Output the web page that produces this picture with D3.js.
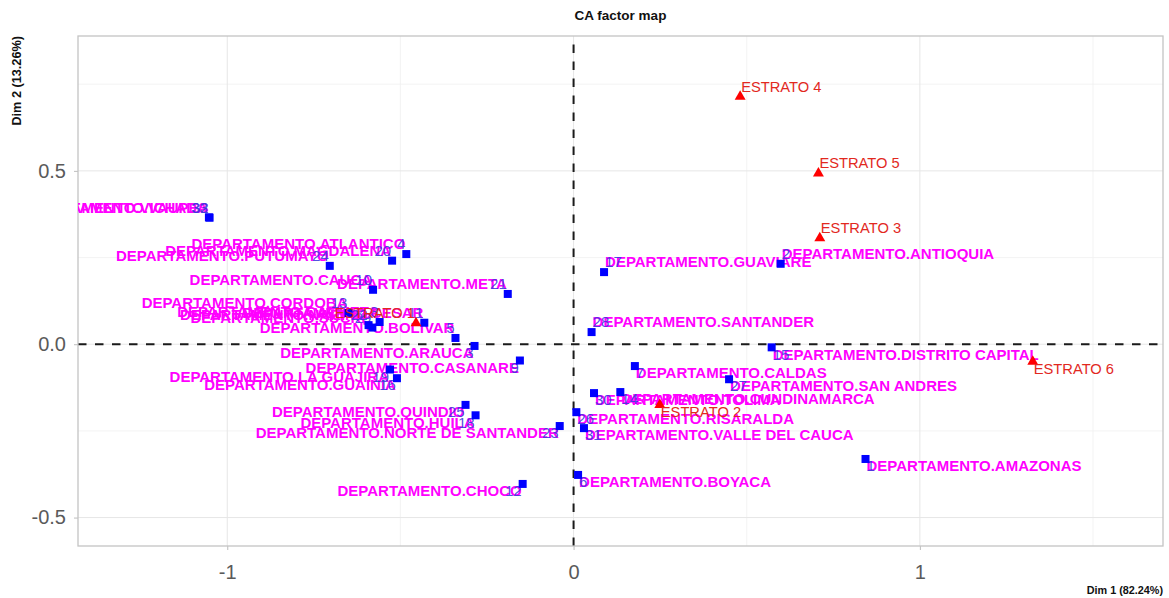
<!DOCTYPE html>
<html>
<head>
<meta charset="utf-8">
<script src="https://cdn.jsdelivr.net/npm/d3@7"></script>
<style>
  html, body { margin: 0; padding: 0; background: #ffffff; }
  svg { display: block; font-family: "Liberation Sans", Arial, sans-serif; }
</style>
</head>
<body>
<svg id="chart" width="1169" height="598"></svg>
<script>
// Row categories (departments) of the correspondence analysis
const departamentos = [
  "AMAZONAS", "ANTIOQUIA", "ARAUCA", "ATLANTICO", "BOLIVAR", "BOYACA", "CALDAS",
  "CAQUETA", "CASANARE", "CAUCA", "CESAR", "CHOCO", "CORDOBA", "CUNDINAMARCA",
  "DISTRITO CAPITAL", "GUAINIA", "GUAVIARE", "HUILA", "LA GUAJIRA", "MAGDALENA",
  "META", "NARINO", "NORTE DE SANTANDER", "PUTUMAYO", "QUINDIO", "RISARALDA",
  "SAN ANDRES", "SANTANDER", "SUCRE", "TOLIMA", "VALLE DEL CAUCA", "VAUPES", "VICHADA"
];
const depDim1 = [
   0.843,  0.598, -0.286, -0.483, -0.341,  0.013,  0.177,
  -0.560, -0.155, -0.579, -0.431, -0.147, -0.650,  0.135,
   0.572, -0.510,  0.088, -0.283, -0.530, -0.524,
  -0.190, -0.592, -0.040, -0.704, -0.312,  0.008,
   0.449,  0.052, -0.581,  0.059,  0.030, -1.051, -1.053
];
const depDim2 = [
  -0.331,  0.232, -0.005,  0.260,  0.018, -0.377, -0.063,
   0.064, -0.047,  0.157,  0.062, -0.403,  0.090, -0.138,
  -0.009, -0.098,  0.208, -0.205, -0.073,  0.241,
   0.145,  0.055, -0.236,  0.226, -0.175, -0.196,
  -0.101,  0.035,  0.048, -0.141, -0.242,  0.365,  0.366
];
// Side of each point where its label sits
const depLabelSide = [
  "se", "ne", "sw", "nw", "nw", "se", "se",
  "nw", "sw", "nw", "nw", "sw", "nw", "se",
  "se", "sw", "ne", "sw", "sw", "nw",
  "nw", "nw", "sw", "nw", "sw", "se",
  "se", "ne", "nw", "se", "se", "nw", "nw"
];

// Column categories (socio-economic strata)
const estratos = ["ESTRATO 1", "ESTRATO 2", "ESTRATO 3", "ESTRATO 4", "ESTRATO 5", "ESTRATO 6"];
const estDim1 = [-0.455, 0.249, 0.711, 0.481, 0.707, 1.326];
const estDim2 = [ 0.061, -0.175, 0.306, 0.714, 0.493, -0.050];
const estLabelSide = ["nw", "se", "ne", "ne", "ne", "se"];

// Axis ticks and titles
const xTicks = [-1, 0, 1];
const yTicks = [-0.5, 0.0, 0.5];
const xMinor = [-0.5, 0.5, 1.5];
const yMinor = [-0.25, 0.25, 0.75];
const chartTitle = "CA factor map";
const xTitle = "Dim 1 (82.24%)";
const yTitle = "Dim 2 (13.26%)";

const svg = d3.select("#chart");
const W = 1169, H = 598;
const panel = { left: 78, right: 1163, top: 36, bottom: 546 };

const x = d3.scaleLinear().domain([-1.431, 1.702]).range([panel.left, panel.right]);
const y = d3.scaleLinear().domain([-0.582, 0.889]).range([panel.bottom, panel.top]);

svg.append("rect").attr("width", W).attr("height", H).attr("fill", "#ffffff");

svg.append("defs").append("clipPath").attr("id", "panel-clip")
  .append("rect")
  .attr("x", panel.left).attr("y", panel.top)
  .attr("width", panel.right - panel.left).attr("height", panel.bottom - panel.top);

// Grid lines
const grid = svg.append("g");
grid.selectAll("line.xminor").data(xMinor).join("line")
  .attr("x1", d => x(d)).attr("x2", d => x(d))
  .attr("y1", panel.top).attr("y2", panel.bottom)
  .attr("stroke", "#F0F0F0").attr("stroke-width", 0.8);
grid.selectAll("line.yminor").data(yMinor).join("line")
  .attr("y1", d => y(d)).attr("y2", d => y(d))
  .attr("x1", panel.left).attr("x2", panel.right)
  .attr("stroke", "#F0F0F0").attr("stroke-width", 0.8);
grid.selectAll("line.xmajor").data(xTicks).join("line")
  .attr("x1", d => x(d)).attr("x2", d => x(d))
  .attr("y1", panel.top).attr("y2", panel.bottom)
  .attr("stroke", "#E6E6E6").attr("stroke-width", 1);
grid.selectAll("line.ymajor").data(yTicks).join("line")
  .attr("y1", d => y(d)).attr("y2", d => y(d))
  .attr("x1", panel.left).attr("x2", panel.right)
  .attr("stroke", "#E6E6E6").attr("stroke-width", 1);

// Reference lines through the origin
svg.append("line")
  .attr("x1", panel.left).attr("x2", panel.right)
  .attr("y1", y(0)).attr("y2", y(0))
  .attr("stroke", "#1a1a1a").attr("stroke-width", 2).attr("stroke-dasharray", "8.5,8.5");
svg.append("line")
  .attr("x1", x(0)).attr("x2", x(0))
  .attr("y1", panel.bottom).attr("y2", panel.top)
  .attr("stroke", "#1a1a1a").attr("stroke-width", 2).attr("stroke-dasharray", "8.5,8.5");

// Axes
const xAxis = svg.append("g").attr("transform", `translate(0,${panel.bottom})`)
  .call(d3.axisBottom(x).tickValues(xTicks).tickSize(4).tickPadding(15));
const yAxis = svg.append("g").attr("transform", `translate(${panel.left},0)`)
  .call(d3.axisLeft(y).tickValues(yTicks).tickSize(4).tickPadding(8));
[xAxis, yAxis].forEach(a => {
  a.select(".domain").remove();
  a.selectAll(".tick line").attr("stroke", "#bdbdbd").attr("stroke-width", 1);
  a.selectAll(".tick text").attr("fill", "#5a5a5a").attr("font-size", 20)
    .attr("font-family", "Liberation Sans, Arial, sans-serif");
});
xAxis.selectAll(".tick text").text(d => d3.format("d")(d).replace("\u2212", "-"));
yAxis.selectAll(".tick text").text(d => d3.format(".1f")(d).replace("\u2212", "-"));

// Panel border
svg.append("rect")
  .attr("x", panel.left).attr("y", panel.top)
  .attr("width", panel.right - panel.left).attr("height", panel.bottom - panel.top)
  .attr("fill", "none").attr("stroke", "#c4c4c4").attr("stroke-width", 1.3);

// Points and labels
const plot = svg.append("g").attr("clip-path", "url(#panel-clip)");
const fs = 15;
const offset = {
  ne: { dx: 1,  dy: -10, anchor: "start" },
  se: { dx: 1,  dy: 7,   anchor: "start" },
  nw: { dx: -1, dy: -10, anchor: "end" },
  sw: { dx: -1, dy: 7,   anchor: "end" }
};

const depData = departamentos.map((name, i) => ({
  name, idx: i + 1, d1: depDim1[i], d2: depDim2[i], side: depLabelSide[i]
}));
const estData = estratos.map((name, i) => ({
  name, d1: estDim1[i], d2: estDim2[i], side: estLabelSide[i]
}));

plot.selectAll("text.deplab").data(depData).join("text")
  .attr("class", "deplab")
  .attr("x", d => x(d.d1) + offset[d.side].dx)
  .attr("y", d => y(d.d2) + offset[d.side].dy)
  .attr("dy", "0.35em")
  .attr("text-anchor", d => offset[d.side].anchor)
  .attr("font-size", fs).attr("font-weight", "bold")
  .attr("fill", "#FF00FF")
  .text(d => "DEPARTAMENTO." + d.name);

plot.selectAll("text.depnum").data(depData).join("text")
  .attr("class", "depnum")
  .attr("x", d => x(d.d1) + offset[d.side].dx)
  .attr("y", d => y(d.d2) + offset[d.side].dy)
  .attr("dy", "0.35em")
  .attr("text-anchor", d => offset[d.side].anchor)
  .attr("font-size", fs)
  .attr("fill", "#3c3cdc").attr("fill-opacity", 0.9)
  .text(d => d.idx);

const sq = 8;
plot.selectAll("rect.dep").data(depData).join("rect")
  .attr("class", "dep")
  .attr("x", d => x(d.d1) - sq / 2).attr("y", d => y(d.d2) - sq / 2)
  .attr("width", sq).attr("height", sq)
  .attr("fill", "#0000FF");

plot.selectAll("path.est").data(estData).join("path")
  .attr("class", "est")
  .attr("d", d3.symbol(d3.symbolTriangle, 52))
  .attr("transform", d => `translate(${x(d.d1)},${y(d.d2)})`)
  .attr("fill", "#FF0000");

plot.selectAll("text.estlab").data(estData).join("text")
  .attr("class", "estlab")
  .attr("x", d => x(d.d1) + offset[d.side].dx)
  .attr("y", d => y(d.d2) + offset[d.side].dy)
  .attr("dy", "0.35em")
  .attr("text-anchor", d => offset[d.side].anchor)
  .attr("font-size", 14.7)
  .attr("fill", "#E2281E")
  .text(d => d.name);

// Titles
svg.append("text")
  .attr("x", (panel.left + panel.right) / 2).attr("y", 20)
  .attr("text-anchor", "middle").attr("font-size", 13.5).attr("font-weight", "bold")
  .attr("fill", "#111").text(chartTitle);
svg.append("text")
  .attr("x", panel.right).attr("y", 594)
  .attr("text-anchor", "end").attr("font-size", 10.8).attr("font-weight", "bold")
  .attr("fill", "#111").text(xTitle);
svg.append("text")
  .attr("transform", `translate(21,${panel.top}) rotate(-90)`)
  .attr("text-anchor", "end").attr("font-size", 12.7).attr("font-weight", "bold")
  .attr("fill", "#111").text(yTitle);
</script>
</body>
</html>
